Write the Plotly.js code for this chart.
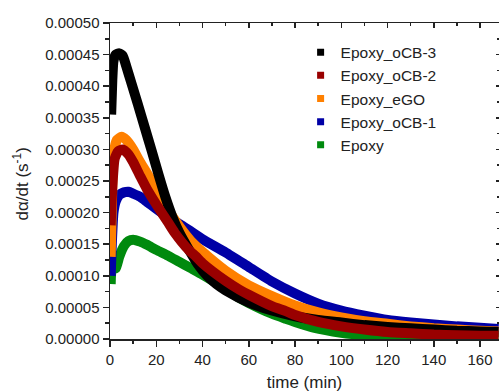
<!DOCTYPE html>
<html>
<head>
<meta charset="utf-8">
<script src="https://cdn.plot.ly/plotly-3.0.1.min.js"></script>
<style>html,body{margin:0;padding:0;background:#fff;}#chart{width:499px;height:392px;}</style>
</head>
<body>
<div id="chart"></div>
<script>
// Series names (legend order) and colours
const seriesNames = ["Epoxy_oCB-3", "Epoxy_oCB-2", "Epoxy_eGO", "Epoxy_oCB-1", "Epoxy"];
const seriesColors = ["#000000", "#990000", "#ff8000", "#0000a6", "#008a0e"];

// Epoxy_oCB-3 (black)
const tBlack = [0.5, 1, 1.5, 2.5, 4, 5.5, 7, 9, 12, 15, 18, 21, 24, 27, 30, 34, 38, 42, 46, 50, 60, 70, 80, 90, 100, 110, 120, 130, 140, 150, 160, 168];
const vBlack = [0.000355, 0.000410, 0.000440, 0.000450, 0.000452, 0.000448, 0.000432, 0.000408, 0.000372, 0.000335, 0.000298, 0.000260, 0.000224, 0.000193, 0.000168, 0.000142, 0.000118, 0.000100, 0.000087, 0.000077, 0.000058, 0.000045, 0.000036, 0.000030, 0.000026, 0.000022, 0.000019, 0.000017, 0.000015, 0.000013, 0.000012, 0.000011];

// Epoxy_oCB-2 (dark red)
const tRed = [0.3, 1, 2, 3.5, 5.5, 8, 10, 13, 16, 20, 25, 28, 34, 37, 40, 50, 56, 60, 70, 76, 80, 90, 100, 110, 120, 130, 140, 150, 160, 168];
const vRed = [0.000180, 0.000240, 0.000285, 0.000297, 0.000300, 0.000292, 0.000280, 0.000258, 0.000237, 0.000213, 0.000185, 0.000168, 0.000141, 0.000131, 0.000120, 0.000092, 0.000078, 0.000070, 0.000052, 0.000044, 0.000038, 0.000027, 0.000020, 0.000015, 0.000011, 0.000009, 0.000007, 0.000006, 0.000005, 0.000005];

// Epoxy_eGO (orange)
const tOrange = [0.3, 0.8, 1.5, 3, 5, 7, 10, 13, 16, 20, 25, 30, 35, 40, 50, 60, 70, 80, 90, 100, 110, 120, 130, 140, 150, 160, 168];
const vOrange = [0.000130, 0.000210, 0.000290, 0.000315, 0.000320, 0.000315, 0.000300, 0.000280, 0.000262, 0.000237, 0.000205, 0.000178, 0.000155, 0.000138, 0.000108, 0.000085, 0.000068, 0.000053, 0.000042, 0.000034, 0.000028, 0.000024, 0.000020, 0.000017, 0.000015, 0.000013, 0.000012];

// Epoxy_oCB-1 (blue)
const tBlue = [0.3, 0.8, 1.5, 2.5, 4, 6, 8, 10, 13, 16, 20, 25, 30, 35, 40, 50, 60, 70, 80, 90, 100, 110, 120, 130, 140, 150, 160, 168];
const vBlue = [0.000100, 0.000152, 0.000200, 0.000218, 0.000228, 0.000232, 0.000233, 0.000230, 0.000225, 0.000217, 0.000206, 0.000193, 0.000182, 0.000170, 0.000158, 0.000137, 0.000114, 0.000091, 0.000072, 0.000056, 0.000045, 0.000037, 0.000030, 0.000026, 0.000023, 0.000020, 0.000018, 0.000016];

// Epoxy (green)
const tGreen = [0.3, 0.8, 2.5, 4, 6, 8, 10, 13, 16, 20, 25, 30, 35, 40, 45, 50, 56, 60, 70, 76, 80, 88, 100, 110, 120, 140, 168];
const vGreen = [0.000087, 0.000110, 0.000112, 0.000130, 0.000147, 0.000155, 0.000157, 0.000154, 0.000149, 0.000141, 0.000132, 0.000122, 0.000112, 0.000102, 0.000091, 0.000079, 0.000065, 0.000057, 0.000040, 0.000032, 0.000027, 0.000018, 0.000010, 0.000006, 0.000004, 0.000002, 0.000001];

const xTickVals = [0, 20, 40, 60, 80, 100, 120, 140, 160];
const yTickVals = [0, 0.00005, 0.0001, 0.00015, 0.0002, 0.00025, 0.0003, 0.00035, 0.0004, 0.00045, 0.0005];
const yTickText = ["0.00000", "0.00005", "0.00010", "0.00015", "0.00020", "0.00025", "0.00030", "0.00035", "0.00040", "0.00045", "0.00050"];

const xData = [tBlack, tRed, tOrange, tBlue, tGreen];
const yData = [vBlack, vRed, vOrange, vBlue, vGreen];
const drawOrder = [4, 3, 2, 0, 1]; // green, blue, orange, black, red on top

const LW = 10;
const traces = [];
drawOrder.forEach(i => {
  traces.push({
    x: xData[i], y: yData[i], type: 'scatter', mode: 'lines',
    line: {color: seriesColors[i], width: LW, shape: 'spline', smoothing: 0.5},
    showlegend: false, hoverinfo: 'skip'
  });
});
seriesNames.forEach((n, i) => {
  traces.push({
    x: [null], y: [null], type: 'scatter', mode: 'markers', name: n,
    marker: {symbol: 'square', size: 7, color: seriesColors[i]},
    legendrank: i + 1
  });
});
// helper trace for mirrored inside-tick axes
traces.push({x: [null], y: [null], xaxis: 'x2', yaxis: 'y2', showlegend: false, hoverinfo: 'skip', mode: 'markers'});

const fontFam = 'Liberation Sans, Arial, sans-serif';
const axCol = '#222222';
const xr = [0, 168.2];
const yr = [0, 0.0005];

const layout = {
  width: 499, height: 392,
  margin: {l: 110, r: 0, t: 23, b: 53},
  paper_bgcolor: '#ffffff', plot_bgcolor: '#ffffff',
  font: {family: fontFam, color: axCol, size: 15},
  showlegend: true,
  legend: {x: 0.49, y: 0.96, xanchor: 'left', yanchor: 'top', bgcolor: 'rgba(0,0,0,0)',
           font: {size: 15.5, family: fontFam, color: '#222'}, tracegroupgap: 0, itemwidth: 30},
  xaxis: {
    range: xr, showgrid: false, zeroline: false, showline: true, linecolor: axCol, linewidth: 1.5,
    ticks: 'outside', ticklen: 6, tickwidth: 1.5, tickcolor: axCol,
    tickvals: xTickVals, tickfont: {size: 15, family: fontFam, color: axCol},
    minor: {dtick: 10, tick0: 0, ticks: 'outside', ticklen: 3.5, tickwidth: 1.5, tickcolor: axCol},
    title: {text: 'time (min)', font: {size: 17, family: fontFam, color: axCol}, standoff: 9},
    fixedrange: true
  },
  yaxis: {
    range: yr, showgrid: false, zeroline: false, showline: true, linecolor: axCol, linewidth: 1.5,
    ticks: 'outside', ticklen: 6, tickwidth: 1.5, tickcolor: axCol,
    tickvals: yTickVals, ticktext: yTickText, tickfont: {size: 15, family: fontFam, color: axCol},
    minor: {dtick: 0.000025, tick0: 0, ticks: 'outside', ticklen: 3.5, tickwidth: 1.5, tickcolor: axCol},
    fixedrange: true
  },
  xaxis2: {
    range: xr, overlaying: 'x', side: 'top', anchor: 'y2', showgrid: false, zeroline: false,
    showline: true, linecolor: axCol, linewidth: 1.5, ticks: 'inside', ticklen: 5, tickwidth: 1.5, tickcolor: axCol,
    tickvals: xTickVals, showticklabels: false,
    minor: {dtick: 10, tick0: 0, ticks: 'inside', ticklen: 3, tickwidth: 1.5, tickcolor: axCol},
    fixedrange: true
  },
  yaxis2: {
    range: yr, overlaying: 'y', side: 'right', anchor: 'x2', showgrid: false, zeroline: false,
    showline: true, linecolor: axCol, linewidth: 1.5, ticks: 'inside', ticklen: 3, tickwidth: 1.5, tickcolor: axCol,
    tickvals: yTickVals, showticklabels: false,
    minor: {dtick: 0.000025, tick0: 0, ticks: 'inside', ticklen: 2, tickwidth: 1.5, tickcolor: axCol},
    fixedrange: true
  },
  annotations: [{
    text: 'dα/dt (s<sup>-1</sup>)', xref: 'paper', yref: 'paper', x: -0.228, y: 0.49,
    xanchor: 'center', yanchor: 'middle', textangle: -90, showarrow: false,
    font: {size: 17, family: fontFam, color: axCol}
  }]
};

Plotly.newPlot('chart', traces, layout, {staticPlot: true, displayModeBar: false});
</script>
</body>
</html>
